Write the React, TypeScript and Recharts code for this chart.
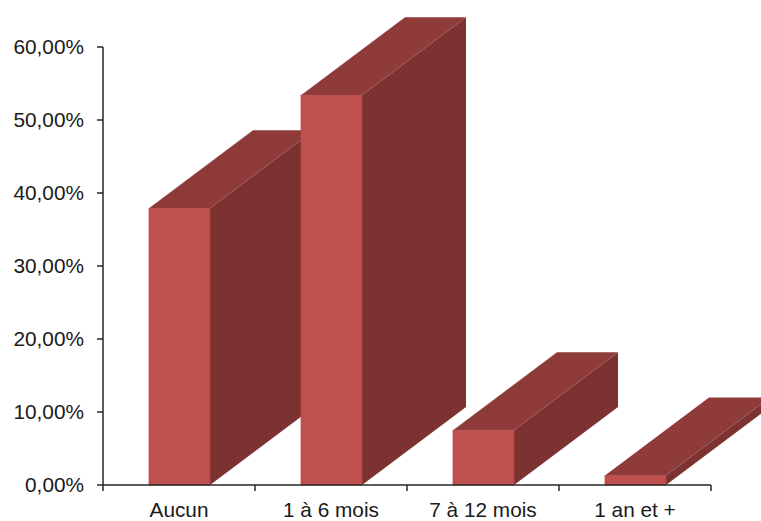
import { BarChart, Bar, XAxis, YAxis } from 'recharts'

const categories = ['Aucun', '1 à 6 mois', '7 à 12 mois', '1 an et +']
const shares = [37.9, 53.4, 7.5, 1.3]
const yTicks = [0, 10, 20, 30, 40, 50, 60]

const data = categories.map((name, i) => ({ name, value: shares[i] }))

const PLOT_WIDTH = 608
const STEP = PLOT_WIDTH / categories.length
const TICK_SIZE = 6
const TICK_MARGIN = 11

// depth of the fake 3D extrusion
const DEPTH_X = 104
const DEPTH_Y = 78

function Box3D({ x, y, width, height }: any) {
  const right = x + width
  const bottom = y + height
  return (
    <g>
      <polygon
        points={`${right},${y} ${right + DEPTH_X},${y - DEPTH_Y} ${right + DEPTH_X},${bottom - DEPTH_Y} ${right},${bottom}`}
        fill="#7B3231"
      />
      <polygon
        points={`${x},${y} ${x + DEPTH_X},${y - DEPTH_Y} ${right + DEPTH_X},${y - DEPTH_Y} ${right},${y}`}
        fill="#8E3B3A"
      />
      <rect x={x} y={y} width={width} height={height} fill="#C0504D" stroke="#B04A47" strokeWidth={0.75} />
    </g>
  )
}

// tick marks sit between the categories, so the label tick draws them too
function CategoryTick({ x, y, index, payload }: any) {
  const axisY = y - TICK_SIZE - TICK_MARGIN
  const edges = index === categories.length - 1 ? [x - STEP / 2, x + STEP / 2] : [x - STEP / 2]
  return (
    <g>
      {edges.map((ex) => (
        <line key={ex} x1={ex} x2={ex} y1={axisY} y2={axisY + TICK_SIZE} stroke="#262626" strokeWidth={1.5} />
      ))}
      <text x={x} y={y} dy="0.71em" textAnchor="middle" fontSize={20.8} fontFamily="Liberation Sans" fill="#1a1a1a">
        {payload.value}
      </text>
    </g>
  )
}

const formatPercent = (v: number) => v.toFixed(2).replace('.', ',') + '%'

export default function App() {
  const tickStyle = { fontSize: 20.8, fontFamily: 'Liberation Sans', fill: '#1a1a1a' }
  const axisStroke = { stroke: '#262626', strokeWidth: 1.5 }
  return (
    <div style={{ position: 'absolute', left: 0, top: 0, width: 761, height: 521, overflow: 'hidden' }}>
      <BarChart
        width={761}
        height={521}
        data={data}
        barSize={61}
        margin={{ top: 47, right: 50, bottom: 0, left: 0 }}
      >
        <XAxis
          dataKey="name"
          axisLine={axisStroke}
          tickLine={false}
          tick={<CategoryTick />}
          interval={0}
          height={36}
          tickSize={TICK_SIZE}
          tickMargin={TICK_MARGIN}
        />
        <YAxis
          type="number"
          domain={[0, 60]}
          ticks={yTicks}
          tickFormatter={formatPercent}
          axisLine={axisStroke}
          tickLine={axisStroke}
          tickSize={TICK_SIZE}
          tickMargin={13}
          tick={tickStyle}
          width={103}
          interval={0}
        />
        <Bar dataKey="value" isAnimationActive={false} shape={<Box3D />} />
      </BarChart>
    </div>
  )
}
